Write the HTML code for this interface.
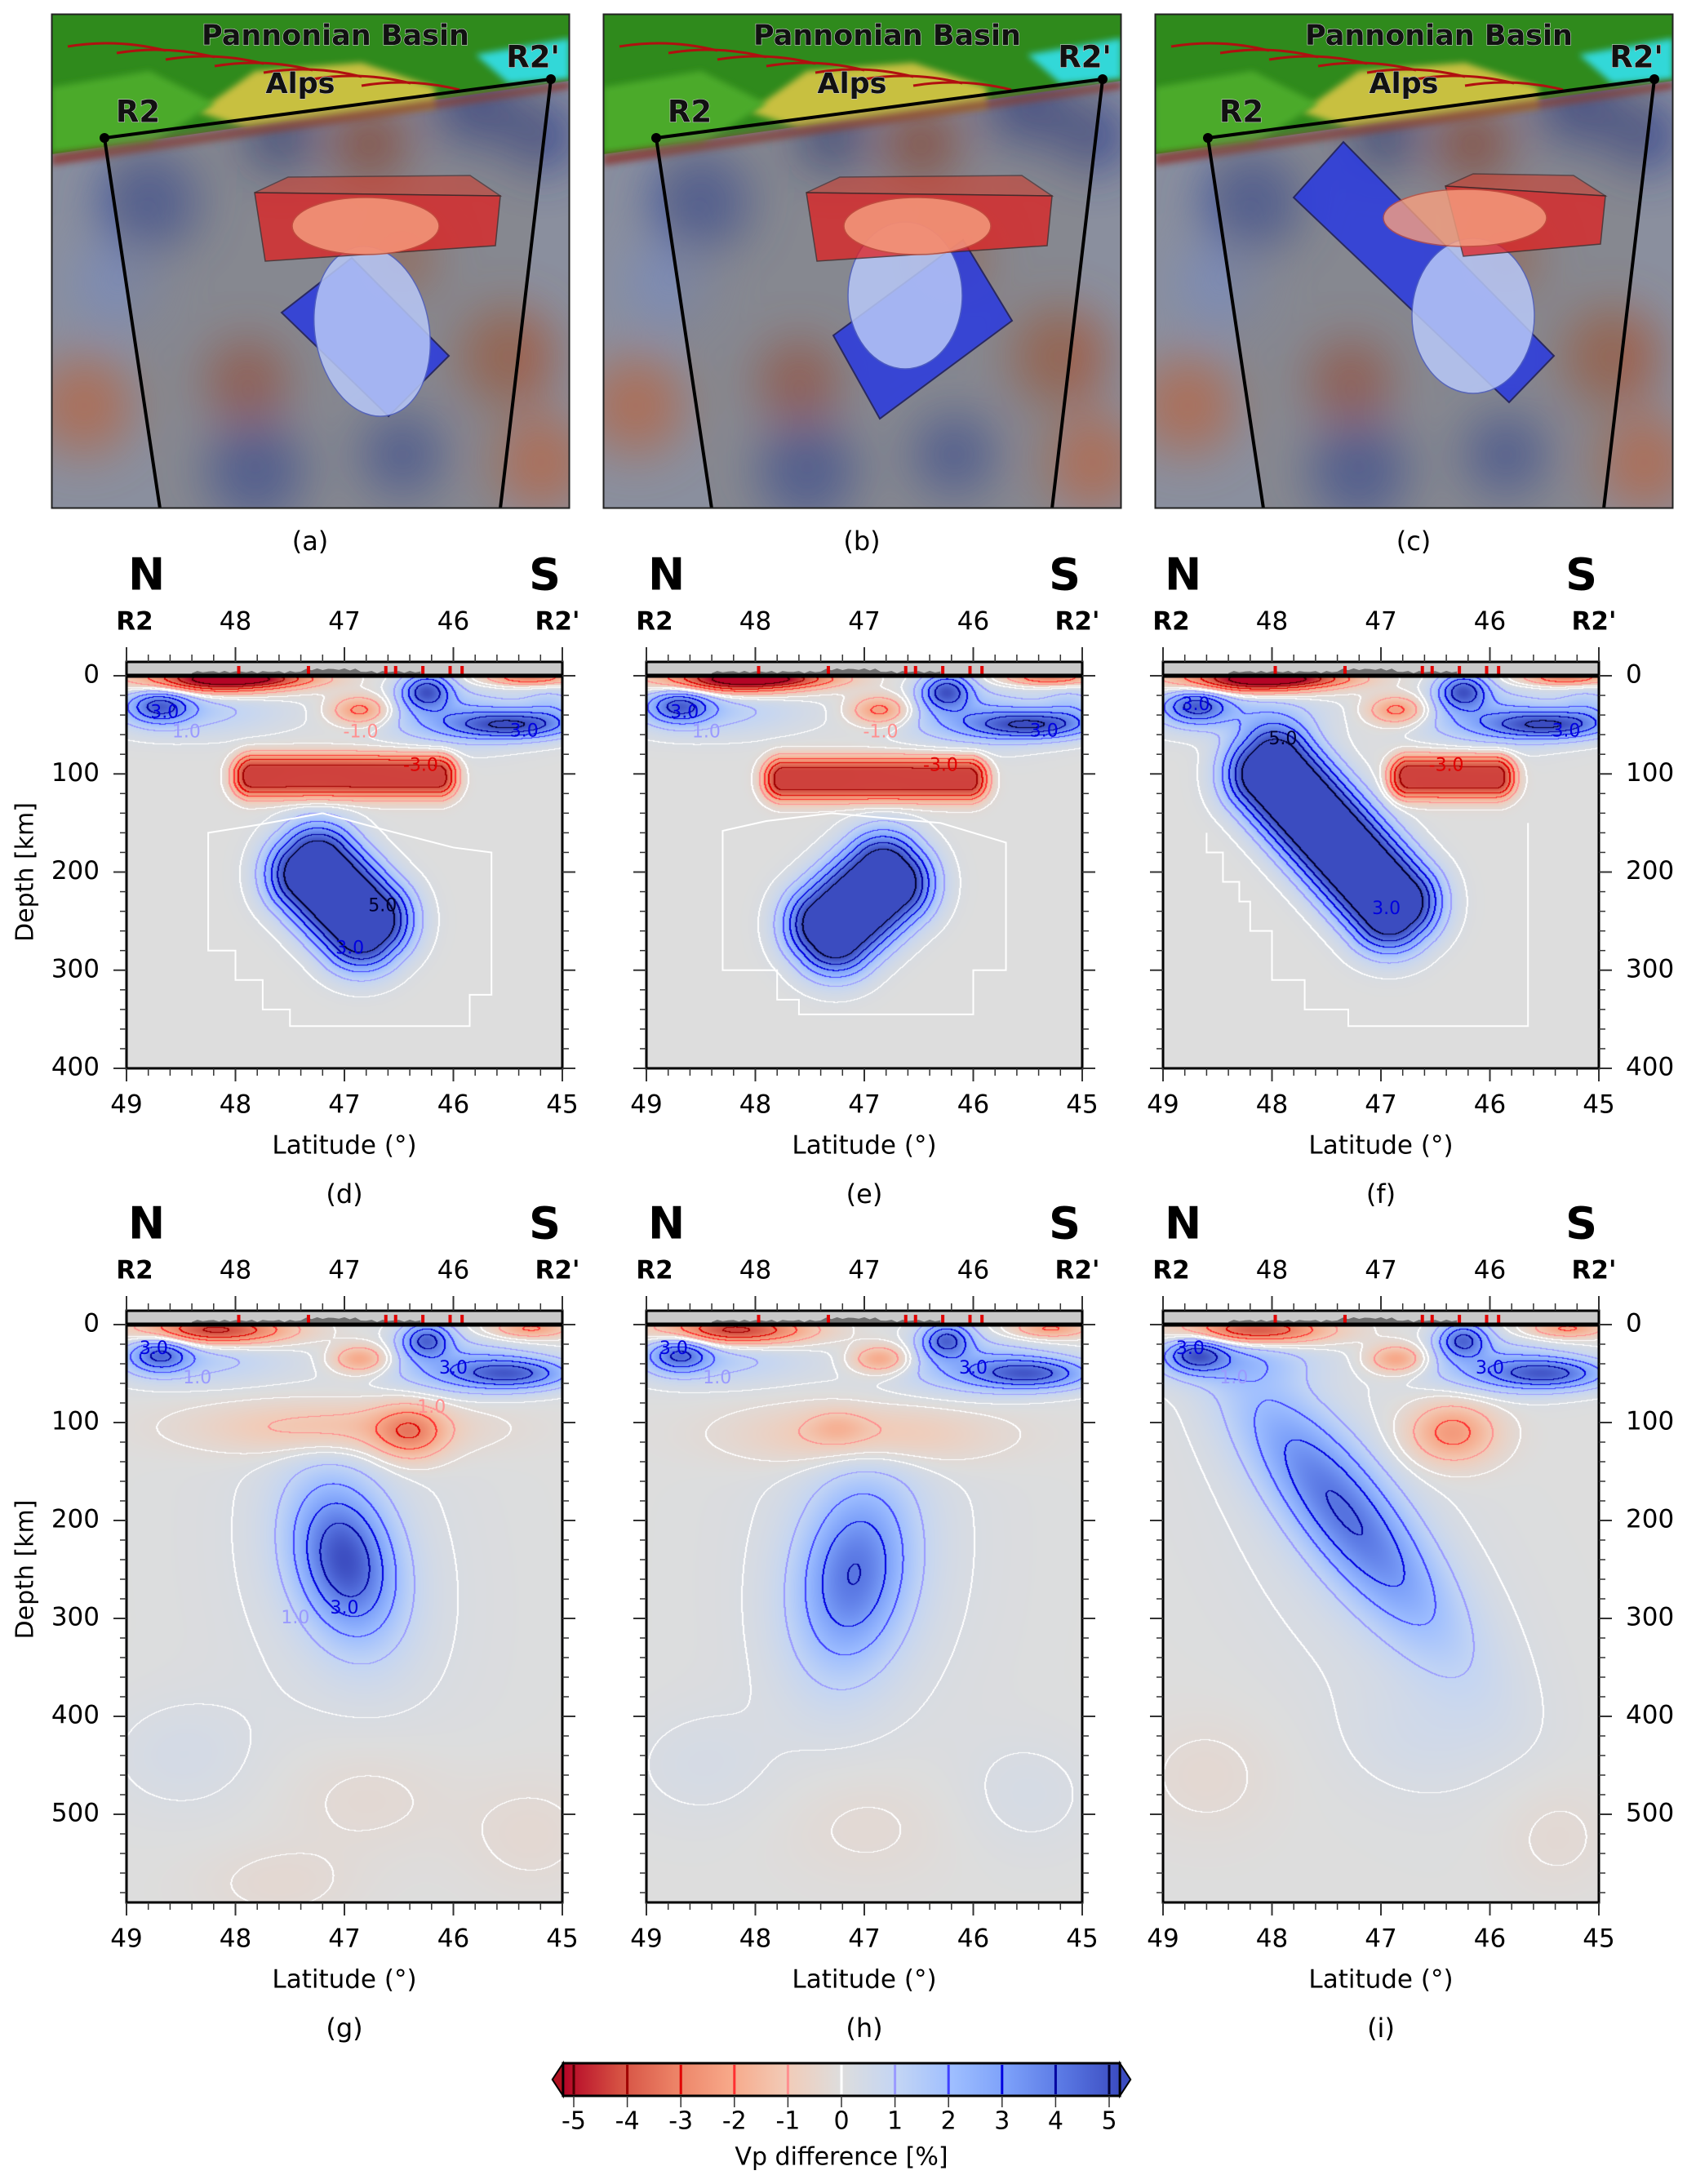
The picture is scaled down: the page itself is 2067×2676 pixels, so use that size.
<!DOCTYPE html>
<html><head><meta charset="utf-8">
<style>
html,body{margin:0;padding:0;background:#fff;}
body{width:2067px;height:2676px;position:relative;overflow:hidden;font-family:"Liberation Sans","DejaVu Sans",sans-serif;}
canvas{position:absolute;}
#overlay{position:absolute;left:0;top:0;}
text{font-family:"DejaVu Sans","Liberation Sans",sans-serif;}
</style></head>
<body>
<svg id="overlay" width="2067" height="2676" xmlns="http://www.w3.org/2000/svg">
<defs>
<filter id="blur30" x="-50%" y="-50%" width="200%" height="200%"><feGaussianBlur stdDeviation="30"/></filter>
<filter id="blur6"><feGaussianBlur stdDeviation="4"/></filter>
<linearGradient id="cbgrad" x1="0" x2="1" y1="0" y2="0">
<stop offset="0" stop-color="#b40426"/><stop offset="0.1" stop-color="#d55042"/><stop offset="0.2" stop-color="#ec8266"/>
<stop offset="0.3" stop-color="#f7a889"/><stop offset="0.4" stop-color="#f2cbb7"/><stop offset="0.5" stop-color="#dddddd"/>
<stop offset="0.6" stop-color="#c3d5f4"/><stop offset="0.7" stop-color="#9ebeff"/><stop offset="0.8" stop-color="#7b9ff9"/>
<stop offset="0.9" stop-color="#5977e3"/><stop offset="1" stop-color="#3b4cc0"/>
</linearGradient>
</defs>
<g id="images"></g>
<g id="axes"></g>
<g id="colorbar"></g>
</svg>
<script>
// ---------------- DATA ----------------
const latTicks=[49,48,47,46,45];
const topLabels=["R2","48","47","46","R2'"];
const depthTicksRow1=[0,100,200,300,400];
const depthTicksRow2=[0,100,200,300,400,500];
const stationLats=[47.97,47.33,46.62,46.53,46.28,46.03,45.92];
const cbTicks=[-5,-4,-3,-2,-1,0,1,2,3,4,5];
const contourLevels=[-5,-4,-3,-2,-1,-0.2,0.2,1,2,3,4,5];
const contourColors=["#4a0000","#a00000","#e00000","#ff3030","#ff9090","#ffffff","#ffffff","#9a9aff","#4040ff","#0000e0","#0000a0","#000030"];
// blobs: [lat, depth, halfLongKm, halfShortKm, angleDeg, amplitude, edgeKm(0 = gaussian)]
const shallowSynth=[[48.2,4,75,14,0,-5.5,0],[47.7,3,60,8,0,-2,0],[48.7,30,32,18,0,3.6,0],[48.4,35,90,25,0,1.3,0],[46.85,35,30,15,0,-2.6,0],
 [46.25,15,25,18,0,4.2,0],[45.45,50,60,14,0,4.2,0],[46.0,42,75,28,0,2,0],[45.3,2,45,8,0,-3,0],[45.1,30,30,20,0,1.2,0]];
const shallowRec=[[48.2,6,75,15,0,-4.5,0],[48.7,30,30,18,0,3.4,0],[48.4,35,90,25,0,1.3,0],[46.85,35,30,15,0,-2.4,0],
 [46.25,15,25,18,0,3.8,0],[45.45,50,60,16,0,3.8,0],[46.0,42,75,28,0,1.8,0],[45.3,4,40,10,0,-2.2,0]];
const blobsD=[[47.0,102,100,8,0,-4.2,15],[47.05,225,50,18,46,6,32]];
const blobsE=[[46.9,105,100,8,0,-4.2,15],[47.05,232,50,18,-42,6,32]];
const blobsF=[[46.35,103,50,8,0,-4.2,15],[47.45,165,105,18,48,6,32]];
const blobsG=[[47.1,105,130,28,0,-1.6,0],[46.4,110,35,28,0,-2.3,0],[47.0,240,80,50,75,4.6,0],[47.0,250,200,130,80,0.35,0],[48.5,440,80,60,0,0.35,0],[46.8,480,90,60,0,-0.35,0],[45.3,520,70,60,0,-0.3,0],[47.6,570,80,40,0,-0.3,0]];
const blobsH=[[47.0,112,120,32,0,-1.5,0],[47.25,105,30,18,0,-0.8,0],[47.1,255,95,55,100,3.7,0],[47.0,240,200,130,95,0.35,0],[48.5,450,80,60,0,0.3,0],[47.0,510,90,60,0,-0.3,0],[45.5,480,70,60,0,0.3,0]];
const blobsI=[[46.35,110,45,32,0,-2.4,0],[47.35,190,160,48,52,3.8,0],[47.2,250,220,120,55,0.35,0],[48.6,460,70,60,0,-0.3,0],[46.6,420,80,60,0,0.3,0],[45.4,520,60,60,0,-0.3,0]];
const outlineD=[[47.2,140],[47.8,152],[48.25,160],[48.25,280],[48.0,280],[48.0,310],[47.75,310],[47.75,340],[47.5,340],[47.5,357],[45.85,357],[45.85,325],[45.65,325],[45.65,180],[46.0,175],[46.7,155],[47.2,140]];
const outlineE=[[47.3,140],[47.9,148],[48.3,158],[48.3,300],[47.8,300],[47.8,330],[47.6,330],[47.6,345],[46.0,345],[46.0,300],[45.7,300],[45.7,170],[46.3,150],[47.3,140]];
const outlineF=[[48.6,160],[48.6,180],[48.45,180],[48.45,210],[48.3,210],[48.3,230],[48.2,230],[48.2,260],[48.0,260],[48.0,310],[47.7,310],[47.7,340],[47.3,340],[47.3,357],[45.65,357],[45.65,150]];
const labelsD=[["3.0",48.65,38,"#0000e0"],["1.0",48.45,58,"#9a9aff"],["-1.0",46.85,58,"#ff9090"],["3.0",45.35,57,"#0000e0"],["-3.0",46.3,92,"#e00000"],["5.0",46.65,235,"#000030"],["3.0",46.95,278,"#0000e0"]];
const labelsF=[["3.0",48.7,30,"#0000e0"],["5.0",47.9,65,"#000030"],["-3.0",46.4,92,"#e00000"],["3.0",46.95,238,"#0000e0"],["3.0",45.3,57,"#0000e0"]];
const labelsG=[["3.0",48.75,25,"#0000e0"],["1.0",48.35,55,"#9a9aff"],["3.0",46.0,45,"#0000e0"],["3.0",47.0,290,"#0000e0"],["1.0",47.45,300,"#9a9aff"],["1.0",46.2,85,"#ff9090"]];

const panels=[
 {id:"d",left:155,zeroY:828,w:534,depthMax:400,kpx:1.2025,blobs:shallowSynth.concat(blobsD),outline:outlineD,labels:labelsD,leftLab:true,rightLab:false,cap:"(d)"},
 {id:"e",left:792,zeroY:828,w:534,depthMax:400,kpx:1.2025,blobs:shallowSynth.concat(blobsE),outline:outlineE,labels:labelsD.slice(0,5),leftLab:false,rightLab:false,cap:"(e)"},
 {id:"f",left:1425,zeroY:828,w:534,depthMax:400,kpx:1.2025,blobs:shallowSynth.concat(blobsF),outline:outlineF,labels:labelsF,leftLab:false,rightLab:true,cap:"(f)"},
 {id:"g",left:155,zeroY:1623,w:534,depthMax:590,kpx:1.2,blobs:shallowRec.concat(blobsG),outline:null,labels:labelsG,leftLab:true,rightLab:false,cap:"(g)"},
 {id:"h",left:792,zeroY:1623,w:534,depthMax:590,kpx:1.2,blobs:shallowRec.concat(blobsH),outline:null,labels:labelsG.slice(0,3),leftLab:false,rightLab:false,cap:"(h)"},
 {id:"i",left:1425,zeroY:1623,w:534,depthMax:590,kpx:1.2,blobs:shallowRec.concat(blobsI),outline:null,labels:labelsG.slice(0,3),leftLab:false,rightLab:true,cap:"(i)"}
];
const colorStops=[[-5,[180,4,38]],[-4,[213,80,66]],[-3,[236,130,102]],[-2,[247,168,137]],[-1,[242,203,183]],[0,[221,221,221]],[1,[195,213,244]],[2,[158,190,255]],[3,[123,159,249]],[4,[89,119,227]],[5,[59,76,192]]];

// ---------------- HELPERS ----------------
const NS="http://www.w3.org/2000/svg";
function mk(tag,attrs,parent,txt){const e=document.createElementNS(NS,tag);for(const k in attrs)e.setAttribute(k,attrs[k]);if(txt!==undefined)e.textContent=txt;parent.appendChild(e);return e;}
function colorOf(v){if(v<=-5)return colorStops[0][1];if(v>=5)return colorStops[10][1];
 const i=Math.floor(v+5),t=v+5-i;const a=colorStops[i][1],b=colorStops[i+1][1];return [a[0]+(b[0]-a[0])*t,a[1]+(b[1]-a[1])*t,a[2]+(b[2]-a[2])*t];}
function levelIdx(v){let n=0;for(const l of contourLevels){if(v>=l)n++;}return n;}

const axes=document.getElementById('axes');
panels.forEach(P=>{
 const xS=lat=>P.left+(49-lat)*P.w/4;
 const yS=d=>P.zeroY+d*P.kpx;
 const H=Math.round(P.depthMax*P.kpx);
 const pxPerKm=P.w/4/111;
 const cv=document.createElement('canvas');
 cv.width=P.w;cv.height=H;cv.style.left=P.left+'px';cv.style.top=P.zeroY+'px';
 
 
 document.body.insertBefore(cv,document.getElementById('overlay'));
 const ctx=cv.getContext('2d');const img=ctx.createImageData(P.w,H);
 const bl=P.blobs.map(b=>{const cx=xS(b[0])-P.left,cy=yS(b[1])-P.zeroY;const an=b[4]*Math.PI/180;
   return {cx,cy,a:b[2]*pxPerKm,b:b[3]*P.kpx,c:Math.cos(an),s:Math.sin(an),amp:b[5],e:(b[6]||0)*P.kpx};});
 const F=new Float32Array(P.w*H);
 for(let y=0;y<H;y++)for(let x=0;x<P.w;x++){let v=0;
  for(const b of bl){const dx=x-b.cx,dy=y-b.cy;const pu=dx*b.c+dy*b.s,pw=-dx*b.s+dy*b.c;
   if(b.e>0){const r=b.b*0.7;const qx=Math.abs(pu)-(b.a-r),qy=Math.abs(pw)-(b.b-r);
     const sdf=Math.hypot(Math.max(qx,0),Math.max(qy,0))-r+Math.min(Math.max(qx,qy),0);
     const t=sdf/b.e;v+=sdf<=0?b.amp:(t>6?0:b.amp*Math.exp(-t*t));}
   else{const u=pu/b.a,w=pw/b.b;const d2=u*u+w*w;if(d2>30)continue;v+=b.amp*Math.exp(-d2);}}
  F[y*P.w+x]=v;}
 for(let y=0;y<H;y++)for(let x=0;x<P.w;x++){const i=y*P.w+x;const c=colorOf(F[i]);img.data[i*4]=c[0];img.data[i*4+1]=c[1];img.data[i*4+2]=c[2];img.data[i*4+3]=255;}
 for(let y=0;y<H-1;y++)for(let x=0;x<P.w-1;x++){const i=y*P.w+x;const a=levelIdx(F[i]);
  const r=levelIdx(F[i+1]),d=levelIdx(F[i+P.w]);let k=-1;
  if(r!==a)k=Math.min(a,r);else if(d!==a)k=Math.min(a,d);
  if(k>=0&&k<contourLevels.length){const col=contourColors[k];const rr=parseInt(col.substr(1,2),16),gg=parseInt(col.substr(3,2),16),bb=parseInt(col.substr(5,2),16);
   for(const j of [i,i+1]){img.data[j*4]=rr;img.data[j*4+1]=gg;img.data[j*4+2]=bb;}}}
 ctx.putImageData(img,0,0);

 const g=mk('g',{},axes);
 if(P.outline){const pts=P.outline.map(p=>xS(p[0])+','+yS(p[1])).join(' ');
  const pl=mk('polyline',{points:pts,fill:'none',stroke:'#ffffff','stroke-width':2},g);
  }
 P.labels.forEach(l=>{const t=mk('text',{x:xS(l[1]),y:yS(l[2]),fill:l[3],'font-size':22,'text-anchor':'middle','dominant-baseline':'middle'},g,l[0]);
  });
 const top=P.zeroY-17,bot=P.zeroY+H,L=P.left,R=P.left+P.w;
 const strip=mk('rect',{x:L,y:top,width:P.w,height:17,fill:'#c9c9c9'},g);
 
 let tp='M'+xS(48.4)+','+P.zeroY;
 for(let la=48.4;la>=46.3;la-=0.05){tp+=' L'+xS(la).toFixed(1)+','+(P.zeroY-3-3*Math.abs(Math.sin(la*37))-(la<47.4&&la>46.9?3:0)).toFixed(1);}
 tp+=' L'+xS(46.3)+','+P.zeroY+'Z';
 const topo=mk('path',{d:tp,fill:'#6e6e6e'},g);
 stationLats.forEach(s=>{const st=mk('rect',{x:xS(s)-2,y:P.zeroY-12,width:4,height:10,fill:'#e00000'},g);
  });
 const zl=mk('line',{x1:L,x2:R,y1:P.zeroY,y2:P.zeroY,stroke:'#000','stroke-width':5},g);
 
 const fr=mk('rect',{x:L,y:top,width:P.w,height:bot-top,fill:'none',stroke:'#000','stroke-width':3},g);
 
 for(let la=49;la>=44.99;la-=0.2){const x=xS(la);const major=Math.abs(la-Math.round(la))<0.01;
  mk('line',{x1:x,x2:x,y1:top,y2:top-(major?18:9),stroke:'#333','stroke-width':major?2:1.5},g);
  mk('line',{x1:x,x2:x,y1:bot,y2:bot+(major?16:9),stroke:'#333','stroke-width':major?2:1.5},g);}
 latTicks.forEach((la,i)=>{
  const t=mk('text',{x:xS(la),y:bot+46,'font-size':31,'text-anchor':'middle','dominant-baseline':'middle',fill:'#000'},g,la);
  
  const tl=topLabels[i];const bold=tl.indexOf('R2')===0;
  const t2=mk('text',{x:xS(la)+(i===0?10:(i===4?-6:0)),y:top-48,'font-size':31,'font-weight':bold?'bold':'normal','text-anchor':'middle','dominant-baseline':'middle',fill:'#000'},g,tl);
  });
 const nl=mk('text',{x:L+2,y:top-103,'font-size':54,'font-weight':'bold','dominant-baseline':'middle',fill:'#000'},g,'N');
 
 const sl=mk('text',{x:R-2,y:top-103,'font-size':54,'font-weight':'bold','text-anchor':'end','dominant-baseline':'middle',fill:'#000'},g,'S');
 
 for(let d=0;d<=P.depthMax;d+=20){const y=yS(d);const major=d%100===0;
  mk('line',{x1:L,x2:L-(major?16:8),y1:y,y2:y,stroke:'#333','stroke-width':major?2:1.5},g);
  mk('line',{x1:R,x2:R+(major?16:8),y1:y,y2:y,stroke:'#333','stroke-width':major?2:1.5},g);}
 const dt=P.depthMax>400?depthTicksRow2:depthTicksRow1;
 dt.forEach(d=>{
  if(P.leftLab){const t=mk('text',{x:L-33,y:yS(d),'font-size':31,'text-anchor':'end','dominant-baseline':'middle',fill:'#000'},g,d);
   }
  if(P.rightLab){const t=mk('text',{x:R+33,y:yS(d),'font-size':31,'text-anchor':'start','dominant-baseline':'middle',fill:'#000'},g,d);
   }});
 if(P.leftLab){const cy=(P.zeroY+yS(P.depthMax>400?500:400))/2;const t=mk('text',{x:0,y:0,'font-size':30,'text-anchor':'middle','dominant-baseline':'middle',fill:'#000',transform:'translate(32,'+cy+') rotate(-90)'},g,'Depth [km]');
  }
 const xt=mk('text',{x:(L+R)/2,y:bot+96,'font-size':31,'text-anchor':'middle','dominant-baseline':'middle',fill:'#000'},g,'Latitude (°)');
 
 const cp=mk('text',{x:(L+R)/2,y:bot+156,'font-size':32,'text-anchor':'middle','dominant-baseline':'middle',fill:'#000'},g,P.cap);
 
});

// ---------------- 3D IMAGES ----------------
const imgs=[
 {id:"a",x:63,red:[[249,219],[550,223],[544,284],[262,303]],redTop:[[249,219],[290,200],[513,198],[550,223]],blue:[[282,366],[368,299],[487,419],[413,493]],lb:[393,389,70,105,-10],lr:[385,260,90,35]},
 {id:"b",x:739,red:[[249,219],[550,223],[544,284],[262,303]],redTop:[[249,219],[290,200],[513,198],[550,223]],blue:[[282,394],[441,277],[501,376],[339,496]],lb:[370,345,70,90,0],lr:[385,260,90,35]},
 {id:"c",x:1415,red:[[356,211],[552,223],[546,282],[378,297]],redTop:[[356,211],[390,196],[513,198],[552,223]],blue:[[170,225],[231,157],[489,419],[434,476]],lb:[390,370,75,95,0],lr:[380,250,100,35]}
];
const bgBlobs=[[120,230,60,'#3b4f9a'],[280,150,40,'#20307a'],[390,160,45,'#8a3a2a'],[520,110,50,'#2a3a8a'],[600,150,40,'#2a3a8a'],
 [240,450,50,'#9a5040'],[560,420,60,'#a05a40'],[40,480,60,'#b06a50'],[250,560,60,'#3b4f9a'],[430,540,50,'#3b4f9a'],[600,550,60,'#b06a50'],[80,330,50,'#7a8ab8'],[430,300,40,'#a06048']];
const imgG=document.getElementById('images');
imgs.forEach(I=>{
 const g=mk('g',{transform:'translate('+I.x+',17)',},imgG);
 const cid='clip'+I.id;const cp=mk('clipPath',{id:cid},g);mk('rect',{x:0,y:0,width:635,height:606},cp);
 const inner=mk('g',{'clip-path':'url(#'+cid+')'},g);
 mk('rect',{x:0,y:0,width:635,height:606,fill:'#8a8f9e'},inner);
 const bg=mk('g',{filter:'url(#blur30)',opacity:0.85},inner);
 bgBlobs.forEach(b=>mk('circle',{cx:b[0],cy:b[1],r:b[2],fill:b[3]},bg));
 const terr=mk('polygon',{points:'0,0 635,0 635,82 0,172',fill:'#2f8a1c'},inner);
 
 mk('polygon',{points:'180,120 250,70 380,60 470,90 470,115 330,130 240,140',fill:'#c8c040',filter:'url(#blur6)'},inner);
 mk('polygon',{points:'0,90 120,70 200,110 120,160 0,170',fill:'#4caa2a',filter:'url(#blur6)'},inner);
 mk('polygon',{points:'520,50 635,30 635,80 560,85',fill:'#30d8d8',filter:'url(#blur6)'},inner);
 mk('polygon',{points:'0,172 635,82 635,92 0,186',fill:'#8a2a20',opacity:0.7,filter:'url(#blur6)'},inner);
 for(let k=0;k<7;k++){mk('path',{d:'M'+(20+k*60)+','+(40+k*8)+' q60,-10 120,5',stroke:'#b01010','stroke-width':3,fill:'none'},inner);}
 mk('polygon',{points:'65,152 612,80 550,606 133,606',fill:'#7a7468',opacity:0.25},inner);
 mk('polyline',{points:'133,606 65,152 612,80 550,606',fill:'none',stroke:'#000','stroke-width':4},inner);
 mk('circle',{cx:65,cy:152,r:6,fill:'#000'},inner);mk('circle',{cx:612,cy:80,r:6,fill:'#000'},inner);
 const bb=mk('polygon',{points:I.blue.map(p=>p.join(',')).join(' '),fill:'#2a3ae0',opacity:0.85,stroke:'#1a1a5a','stroke-width':2},inner);
 
 const lb=mk('ellipse',{cx:I.lb[0],cy:I.lb[1],rx:I.lb[2],ry:I.lb[3],transform:'rotate('+I.lb[4]+' '+I.lb[0]+' '+I.lb[1]+')',fill:'#b8c8f8',opacity:0.85,stroke:'#5060c0','stroke-width':1.5},inner);
 
 mk('polygon',{points:I.redTop.map(p=>p.join(',')).join(' '),fill:'#d04030',opacity:0.6,stroke:'#402020','stroke-width':1.5},inner);
 const rb=mk('polygon',{points:I.red.map(p=>p.join(',')).join(' '),fill:'#e02020',opacity:0.75,stroke:'#402020','stroke-width':1.5},inner);
 
 const lr=mk('ellipse',{cx:I.lr[0],cy:I.lr[1],rx:I.lr[2],ry:I.lr[3],fill:'#f8a080',opacity:0.8,stroke:'#c05040','stroke-width':1.5},inner);
 
 const st={'font-weight':'bold',fill:'#111',stroke:'#ccc','stroke-width':1.2,'paint-order':'stroke','text-anchor':'middle','dominant-baseline':'middle'};
 function lab(x,y,s,t,name){const a=Object.assign({x:x,y:y,'font-size':s},st);const e=mk('text',a,inner,t);}
 lab(348,28,35,'Pannonian Basin','basin-label');lab(305,87,35,'Alps','alps-label');lab(106,122,37,'R2','r2-label');lab(590,55,37,"R2'","r2-prime-label");
 mk('rect',{x:0.5,y:0.5,width:634,height:605,fill:'none',stroke:'#222','stroke-width':2},g);
 const cap=mk('text',{x:317,y:648,'font-size':32,'text-anchor':'middle','dominant-baseline':'middle',fill:'#000'},g,'('+I.id+')');
 
});

// ---------------- COLORBAR ----------------
const cb=document.getElementById('colorbar');
const cbx=v=>1031+v*65.6;
const cbg=mk('g',{},cb);
mk('polygon',{points:cbx(-5.2)+',2528 '+cbx(-5.4)+',2548 '+cbx(-5.2)+',2568',fill:'#b01020',stroke:'#000','stroke-width':2},cbg);
mk('polygon',{points:cbx(5.2)+',2528 '+cbx(5.4)+',2548 '+cbx(5.2)+',2568',fill:'#3b4cc0',stroke:'#000','stroke-width':2},cbg);
mk('rect',{x:cbx(-5.2),y:2528,width:cbx(5.2)-cbx(-5.2),height:40,fill:'url(#cbgrad)',stroke:'#000','stroke-width':3},cbg);
cbTicks.forEach((v,i)=>{const x=cbx(v);
 mk('line',{x1:x,x2:x,y1:2530,y2:2566,stroke:contourColors[i<5?i:(i===5?5:i+1)],'stroke-width':3},cbg);
 mk('line',{x1:x,x2:x,y1:2568,y2:2582,stroke:'#333','stroke-width':1.5},cbg);
 const t=mk('text',{x:x,y:2600,'font-size':30,'text-anchor':'middle','dominant-baseline':'middle',fill:'#000'},cbg,v);
 });
const cbt=mk('text',{x:1031,y:2644,'font-size':30,'text-anchor':'middle','dominant-baseline':'middle',fill:'#000'},cbg,'Vp difference [%]');

</script>
</body></html>
